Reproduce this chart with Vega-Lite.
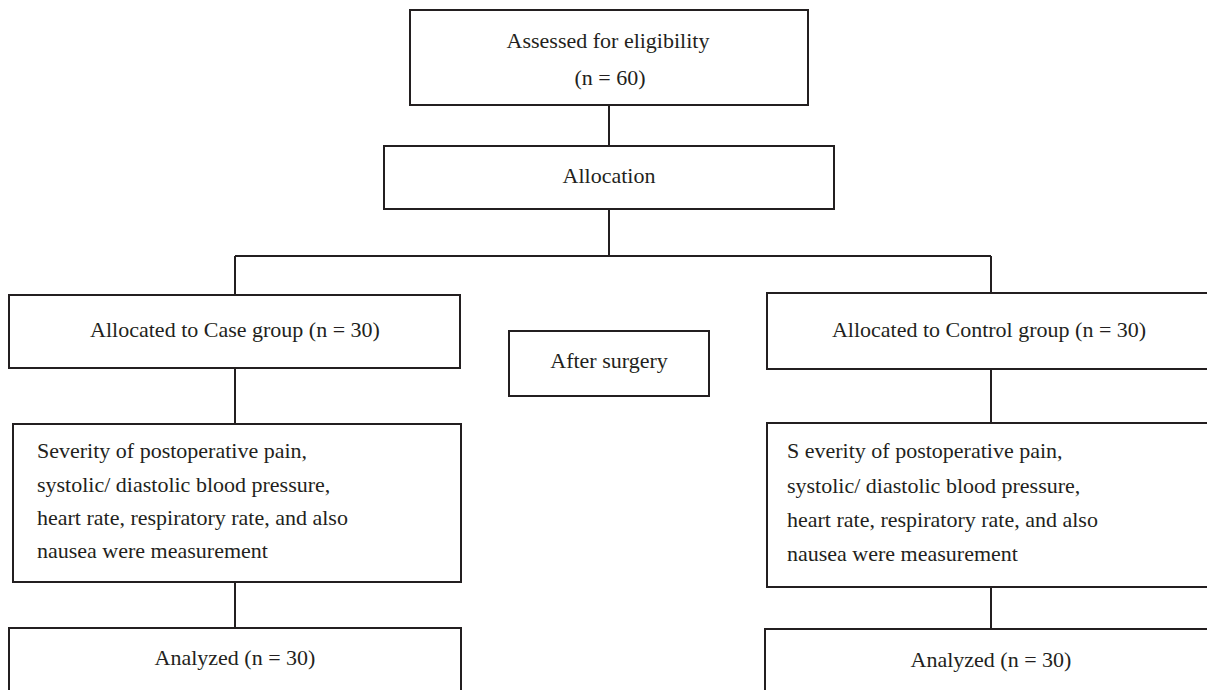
{
  "$schema": "https://vega.github.io/schema/vega-lite/v6.json",
  "width": 1207,
  "height": 690,
  "autosize": {"type": "fit", "contains": "padding"},
  "padding": 0,
  "background": "white",
  "config": {"view": {"stroke": null}},
  "datasets": {
    "links": [
      {"x": 609, "y": 105, "x2": 609, "y2": 146},
      {"x": 609, "y": 209, "x2": 609, "y2": 256},
      {"x": 235, "y": 256, "x2": 991, "y2": 256},
      {"x": 235, "y": 256, "x2": 235, "y2": 295},
      {"x": 991, "y": 256, "x2": 991, "y2": 293},
      {"x": 235, "y": 368, "x2": 235, "y2": 424},
      {"x": 991, "y": 369, "x2": 991, "y2": 423},
      {"x": 235, "y": 582, "x2": 235, "y2": 628},
      {"x": 991, "y": 587, "x2": 991, "y2": 629}
    ],
    "boxes": [
      {"name": "eligibility", "x": 410, "x2": 808, "y": 10, "y2": 105},
      {"name": "allocation", "x": 384, "x2": 834, "y": 146, "y2": 209},
      {"name": "case", "x": 9, "x2": 460, "y": 295, "y2": 368},
      {"name": "after", "x": 509, "x2": 709, "y": 331, "y2": 396},
      {"name": "control", "x": 767, "x2": 1220, "y": 293, "y2": 369},
      {"name": "case measures", "x": 13, "x2": 461, "y": 424, "y2": 582},
      {"name": "control measures", "x": 767, "x2": 1220, "y": 423, "y2": 587},
      {"name": "case analyzed", "x": 9, "x2": 461, "y": 628, "y2": 710},
      {"name": "control analyzed", "x": 765, "x2": 1220, "y": 629, "y2": 710}
    ],
    "labels": [
      {"role": "center", "text": "Assessed for eligibility", "x": 608, "y": 48},
      {"role": "center", "text": "(n = 60)", "x": 610, "y": 85},
      {"role": "center", "text": "Allocation", "x": 609, "y": 183},
      {"role": "center", "text": "Allocated to Case group (n = 30)", "x": 235, "y": 337},
      {"role": "center", "text": "After surgery", "x": 609, "y": 368},
      {"role": "center", "text": "Allocated to Control group (n = 30)", "x": 989, "y": 337},
      {"role": "left", "text": "Severity of postoperative pain,", "x": 37, "y": 458},
      {"role": "left", "text": "systolic/ diastolic blood pressure,", "x": 37, "y": 492},
      {"role": "left", "text": "heart rate, respiratory rate, and also", "x": 37, "y": 525},
      {"role": "left", "text": "nausea were measurement", "x": 37, "y": 558},
      {"role": "left", "text": "S everity of postoperative pain,", "x": 787, "y": 458},
      {"role": "left", "text": "systolic/ diastolic blood pressure,", "x": 787, "y": 493},
      {"role": "left", "text": "heart rate, respiratory rate, and also", "x": 787, "y": 527},
      {"role": "left", "text": "nausea were measurement", "x": 787, "y": 561},
      {"role": "center", "text": "Analyzed (n = 30)", "x": 235, "y": 665},
      {"role": "center", "text": "Analyzed (n = 30)", "x": 991, "y": 667}
    ]
  },
  "layer": [
    {
      "data": {"name": "links"},
      "mark": {"type": "rule", "stroke": "#231f20", "strokeWidth": 2},
      "encoding": {
        "x": {"field": "x", "type": "quantitative", "scale": {"domain": [0, 1207], "nice": false, "zero": false}, "axis": null},
        "y": {"field": "y", "type": "quantitative", "scale": {"domain": [0, 690], "nice": false, "zero": false, "reverse": true}, "axis": null},
        "x2": {"field": "x2"},
        "y2": {"field": "y2"}
      }
    },
    {
      "data": {"name": "boxes"},
      "mark": {"type": "rect", "fill": "white", "stroke": "#231f20", "strokeWidth": 2, "clip": true},
      "encoding": {
        "x": {"field": "x", "type": "quantitative", "scale": {"domain": [0, 1207], "nice": false, "zero": false}, "axis": null},
        "y": {"field": "y", "type": "quantitative", "scale": {"domain": [0, 690], "nice": false, "zero": false, "reverse": true}, "axis": null},
        "x2": {"field": "x2"},
        "y2": {"field": "y2"}
      }
    },
    {
      "data": {"name": "labels"},
      "transform": [{"filter": "datum.role === 'center'"}],
      "mark": {"type": "text", "font": "Liberation Serif", "fontSize": 22, "fill": "#231f20", "align": "center", "baseline": "alphabetic"},
      "encoding": {
        "x": {"field": "x", "type": "quantitative", "scale": {"domain": [0, 1207], "nice": false, "zero": false}, "axis": null},
        "y": {"field": "y", "type": "quantitative", "scale": {"domain": [0, 690], "nice": false, "zero": false, "reverse": true}, "axis": null},
        "text": {"field": "text"}
      }
    },
    {
      "data": {"name": "labels"},
      "transform": [{"filter": "datum.role === 'left'"}],
      "mark": {"type": "text", "font": "Liberation Serif", "fontSize": 22, "fill": "#231f20", "align": "left", "baseline": "alphabetic"},
      "encoding": {
        "x": {"field": "x", "type": "quantitative", "scale": {"domain": [0, 1207], "nice": false, "zero": false}, "axis": null},
        "y": {"field": "y", "type": "quantitative", "scale": {"domain": [0, 690], "nice": false, "zero": false, "reverse": true}, "axis": null},
        "text": {"field": "text"}
      }
    }
  ]
}
